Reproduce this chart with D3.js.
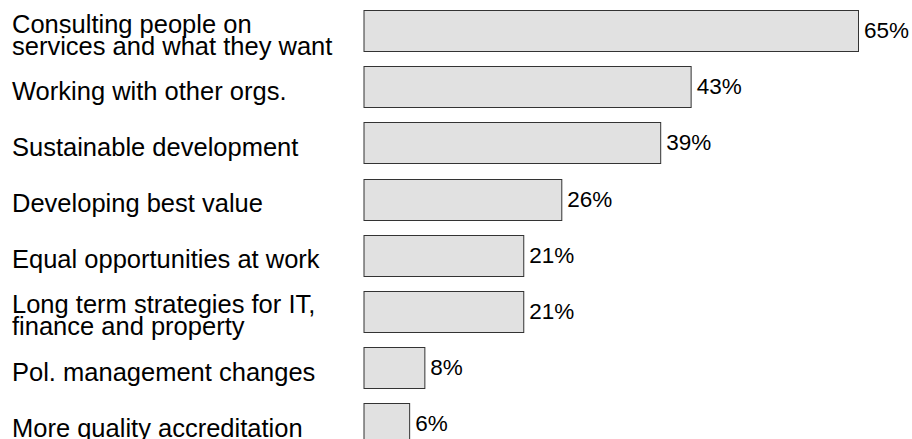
<!DOCTYPE html>
<html>
<head>
<meta charset="utf-8">
<script src="https://cdn.jsdelivr.net/npm/d3@7"></script>
<style>
  html, body { margin: 0; padding: 0; background: #fff; }
  svg { display: block; }
  text { font-family: "Liberation Sans", Arial, Helvetica, sans-serif; fill: #000; }
</style>
</head>
<body>
<svg id="chart" width="912" height="439"></svg>
<script>
// Share of respondents naming each area (percent)
const categories = [
  "Consulting people on services and what they want",
  "Working with other orgs.",
  "Sustainable development",
  "Developing best value",
  "Equal opportunities at work",
  "Long term strategies for IT, finance and property",
  "Pol. management changes",
  "More quality accreditation"
];
// Label lines for each category
const labelLines = [
  ["Consulting people on", "services and what they want"],
  ["Working with other orgs."],
  ["Sustainable development"],
  ["Developing best value"],
  ["Equal opportunities at work"],
  ["Long term strategies for IT,", "finance and property"],
  ["Pol. management changes"],
  ["More quality accreditation"]
];
const values = [65, 43, 39, 26, 21, 21, 8, 6];

const svg = d3.select("#chart");

const x = d3.scaleLinear()
  .domain([0, 65])
  .range([363.5, 858]);

const y = d3.scaleBand()
  .domain(categories)
  .range([10, 444.4])
  .paddingInner(0.27)
  .paddingOuter(0);

const rows = svg.selectAll("g.row")
  .data(categories.map((c, i) => ({ c, v: values[i], lines: labelLines[i] })))
  .join("g")
  .attr("class", "row");

rows.append("rect")
  .attr("x", x(0) + 0.5)
  .attr("y", d => Math.round(y(d.c)) + 0.5)
  .attr("width", d => x(d.v) - x(0))
  .attr("height", Math.round(y.bandwidth()))
  .attr("fill", "#e1e1e1")
  .attr("stroke", "#333")
  .attr("stroke-width", 1);

rows.append("text")
  .attr("x", d => x(d.v) + 6)
  .attr("y", d => y(d.c) + y.bandwidth() / 2 + 7.5)
  .attr("font-size", 22.5)
  .text(d => d.v + "%");

rows.each(function(d) {
  const cy = y(d.c) + y.bandwidth() / 2;
  const g = d3.select(this);
  const lh = 22;
  const first = d.lines.length === 1 ? cy + 13 : cy + 2;
  d.lines.forEach((line, k) => {
    g.append("text")
      .attr("x", 12)
      .attr("y", first + k * lh)
      .attr("font-size", 25.5)
      .text(line);
  });
});
</script>
</body>
</html>
